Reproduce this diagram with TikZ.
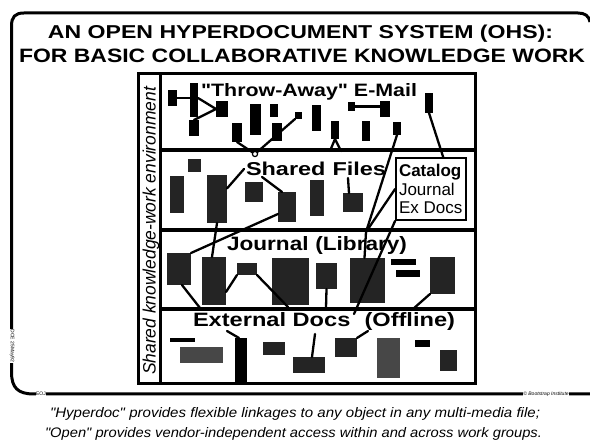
\documentclass[tikz,border=0pt]{standalone}
\usepackage{fontspec}
\setmainfont{Liberation Sans}[Ligatures=TeXOff]
\usepackage{graphicx}
\usetikzlibrary{calc}

\newcommand\fitbox[3]{\resizebox{#1pt}{#2pt}{#3}}
\newcommand\bx[6]{\node[#1, minimum width={(#5)-(#3)}, minimum height={(#6)-(#4)}] (#2) at ({((#3)+(#5))/2},{((#4)+(#6))/2}) {};}

\tikzset{
  blk/.style={fill=black, draw=none, inner sep=0pt, outer sep=0pt, rectangle},
  gblk/.style={fill=black!86, draw=none, inner sep=0pt, outer sep=0pt, rectangle},
  lgblk/.style={fill=black!72, draw=none, inner sep=0pt, outer sep=0pt, rectangle},
  conn/.style={line width=2.3pt, line cap=round, line join=round},
  frame/.style={line width=3pt},
  lbl/.style={inner sep=0pt, outer sep=0pt, anchor=base west},
  tiny/.style={inner sep=0.6pt, outer sep=0pt, fill=white, font=\fontsize{5}{6}\selectfont},
  catbox/.style={draw, line width=1.8pt, fill=white, inner sep=0pt, rectangle},
  cattxt/.style={inner sep=0pt, outer sep=0pt, anchor=base west, font=\fontsize{17}{19}\selectfont},
}

\begin{document}
\begin{tikzpicture}[x=1pt,y=-1pt]
\useasboundingbox (0,0) rectangle (590,446);

% outer frame
\draw[frame] (590,22) .. controls (589,16) and (585,13) .. (578,13) -- (24,13)
  .. controls (15,13) and (11.5,17) .. (11.5,26) -- (11.5,372)
  .. controls (11.5,388) and (18,394) .. (34,394) -- (590,394);
\node[tiny] (eoj) at (41,394) {EOJ};
\node[tiny, font=\fontsize{5}{6}\selectfont\itshape] (boot) at (546,394) {© Bootstrap Institute};
\node[tiny, rotate=-90] (dce) at (12,346) {DCE 25May92};

% title
\node[lbl] (title1) at (48,38.5) {\fitbox{505}{13.5}{\bfseries AN OPEN HYPERDOCUMENT SYSTEM (OHS):}};
\node[lbl] (title2) at (19,63) {\fitbox{566}{13.5}{\bfseries FOR BASIC COLLABORATIVE KNOWLEDGE WORK}};

% inner box
\draw[line width=3pt] (138,74) rectangle (475,384);
\draw[line width=3pt] (160,74) -- (160,384);
\draw[line width=3.5pt] (160,150) -- (475,150);
\draw[line width=3.5pt] (160,230) -- (475,230);
\draw[line width=3.5pt] (160,309) -- (475,309);
\node[lbl, rotate=90] (strip) at (155.5,375) {\fitbox{288}{13}{\itshape Shared knowledge-work environment}};

% band labels
\node[lbl] (lblmail) at (201,97) {\fitbox{216}{13}{\bfseries "Throw-Away" E-Mail}};
\node[lbl] (lblshared) at (246,176) {\fitbox{140}{13.5}{\bfseries Shared\hspace{0.3em}Files}};
\node[lbl] (lbljournal) at (227,251) {\fitbox{180}{14}{\bfseries Journal\hspace{0.3em}(Library)}};
\node[lbl] (lblext) at (193,327) {\fitbox{262}{14}{\bfseries External Docs\hspace{0.6em}(Offline)}};

% band 1 blocks
\bx{blk}{A}{168}{90}{177}{106}
\bx{blk}{B}{190}{83}{198}{117}
\bx{blk}{C}{216}{101}{228}{117}
\bx{blk}{D}{189}{120}{199}{136}
\bx{blk}{E}{232}{123}{242}{142}
\bx{blk}{F}{250}{104}{261}{135}
\bx{blk}{G}{270}{104}{278}{117}
\bx{blk}{H}{272}{123}{282}{141}
\bx{blk}{Q}{295}{112}{302}{119}
\bx{blk}{I}{312}{105}{321}{131}
\bx{blk}{J}{331}{121}{339}{139}
\bx{blk}{L}{348}{102}{355}{111}
\bx{blk}{M}{380}{101}{390}{117}
\bx{blk}{N}{362}{121}{370}{141}
\bx{blk}{O}{393}{122}{401}{135}
\bx{blk}{P}{425}{93}{433}{113}

% band 2 blocks
\bx{gblk}{S1}{188}{159}{201}{172}
\bx{gblk}{S2}{170}{176}{184}{213}
\bx{gblk}{S3}{207}{175}{227}{223}
\bx{gblk}{S4}{245}{182}{263}{202}
\bx{gblk}{S5}{278}{192}{296}{222}
\bx{gblk}{S6}{310}{180}{324}{216}
\bx{gblk}{S7}{343}{193}{363}{212}

% catalog box
\node[catbox, minimum width=70, minimum height=62] (cat) at (431,189) {};
\node[cattxt] (cat1) at (399,177) {\bfseries Catalog};
\node[cattxt] (cat2) at (399,196) {Journal};
\node[cattxt] (cat3) at (399,214) {Ex Docs};

% band 3 blocks
\bx{gblk}{J1}{167}{253}{191}{285}
\bx{gblk}{J2}{202}{257}{226}{305}
\bx{gblk}{J3}{237}{263}{257}{275}
\bx{gblk}{J4}{272}{258}{309}{305}
\bx{gblk}{J5}{316}{263}{337}{289}
\bx{gblk}{J6}{350}{258}{385}{303}
\bx{blk}{bar1}{391}{259}{416}{265}
\bx{blk}{bar2}{396}{270}{420}{277}
\bx{gblk}{J8}{430}{257}{455}{294}

% band 4 blocks
\bx{blk}{X0}{170}{338}{195}{342}
\bx{lgblk}{X1}{180}{347}{223}{363}
\bx{blk}{X2}{235}{338}{247}{384}
\bx{gblk}{X3}{263}{342}{285}{355}
\bx{gblk}{X4}{293}{357}{325}{373}
\bx{gblk}{X5}{335}{338}{357}{357}
\bx{lgblk}{X6}{377}{338}{400}{378}
\bx{blk}{X7}{415}{340}{430}{347}
\bx{gblk}{X8}{440}{350}{457}{371}

% free ends
\coordinate (v1) at (255,154);
\coordinate (jl1) at (330,151);
\coordinate (jl2) at (341,151);
\coordinate (tip) at (366,232);
\coordinate (l3e) at (354,314);
\coordinate (j1e) at (200,308);
\coordinate (j3e) at (288,307);
\coordinate (j5e) at (326,308);
\coordinate (j8e) at (413,309);
\coordinate (sh1) at (244,169);
\coordinate (sh2) at (262,177);
\coordinate (fl1) at (348,178);
\coordinate (ex1) at (227,331);
\coordinate (dc1) at (315,334);
\coordinate (of1) at (368,331);

% band 1 connectors
\draw[conn] (A.east) -- (A.east -| B.west);
\draw[conn] ($(B.east)+(0,-2)$) -- (C.west);
\draw[conn] (D.north) -- (C.west);
\draw[conn] (E.south) -- (v1) -- (Q.south west);
\draw[line width=1.2pt, fill=white] (v1) circle (2.6);
\draw[conn] (J.south) -- (jl1);
\draw[conn] (J.south) -- (jl2);
\draw[conn] (L.east) -- (L.east -| M.west);
\draw[conn] (O.south) -- (tip);
\draw[conn] (P.south) -- ($(cat.north west)!0.67!(cat.north east)$);

% band 2 connectors
\draw[conn] ($(S3.north east)!0.28!(S3.south east)$) -- (sh1);
\draw[conn] (sh2) -- ($(S5.north west)+(4,0)$);
\draw[conn] (fl1) -- ($(S7.north)+(-4,0)$);
\draw[conn] ($(S5.south west)+(0,-8)$) -- (J1.north east);
\draw[conn] (S3.south) -- ($(J2.north)+(-2,0)$);
\draw[conn] (cat.west) -- (tip);
\draw[conn] (tip) -- ($(J6.north)+(-3,0)$);
\draw[conn] (cat.south west) -- (l3e);

% band 3 connectors
\draw[conn] ($(J1.south)+(3,0)$) -- (j1e);
\draw[conn] ($(J2.south east)+(0,-13)$) -- (J3.south west);
\draw[conn] (J3.south east) -- (j3e);
\draw[conn] (J5.south) -- (j5e);
\draw[conn] (J8.south west) -- (j8e);

% band 4 connectors
\draw[conn] (ex1) -- ($(X2.north)+(-2,0)$);
\draw[conn] (dc1) -- ($(X4.north)+(3,0)$);
\draw[conn] (of1) -- (X5.north east);

% caption
\node[lbl] (cap1) at (50,418) {\fitbox{490}{10}{\itshape "Hyperdoc" provides flexible linkages to any object in any multi-media file;}};
\node[lbl] (cap2) at (45,438) {\fitbox{497}{10}{\itshape "Open" provides vendor-independent access within and across work groups.}};
\end{tikzpicture}
\end{document}
